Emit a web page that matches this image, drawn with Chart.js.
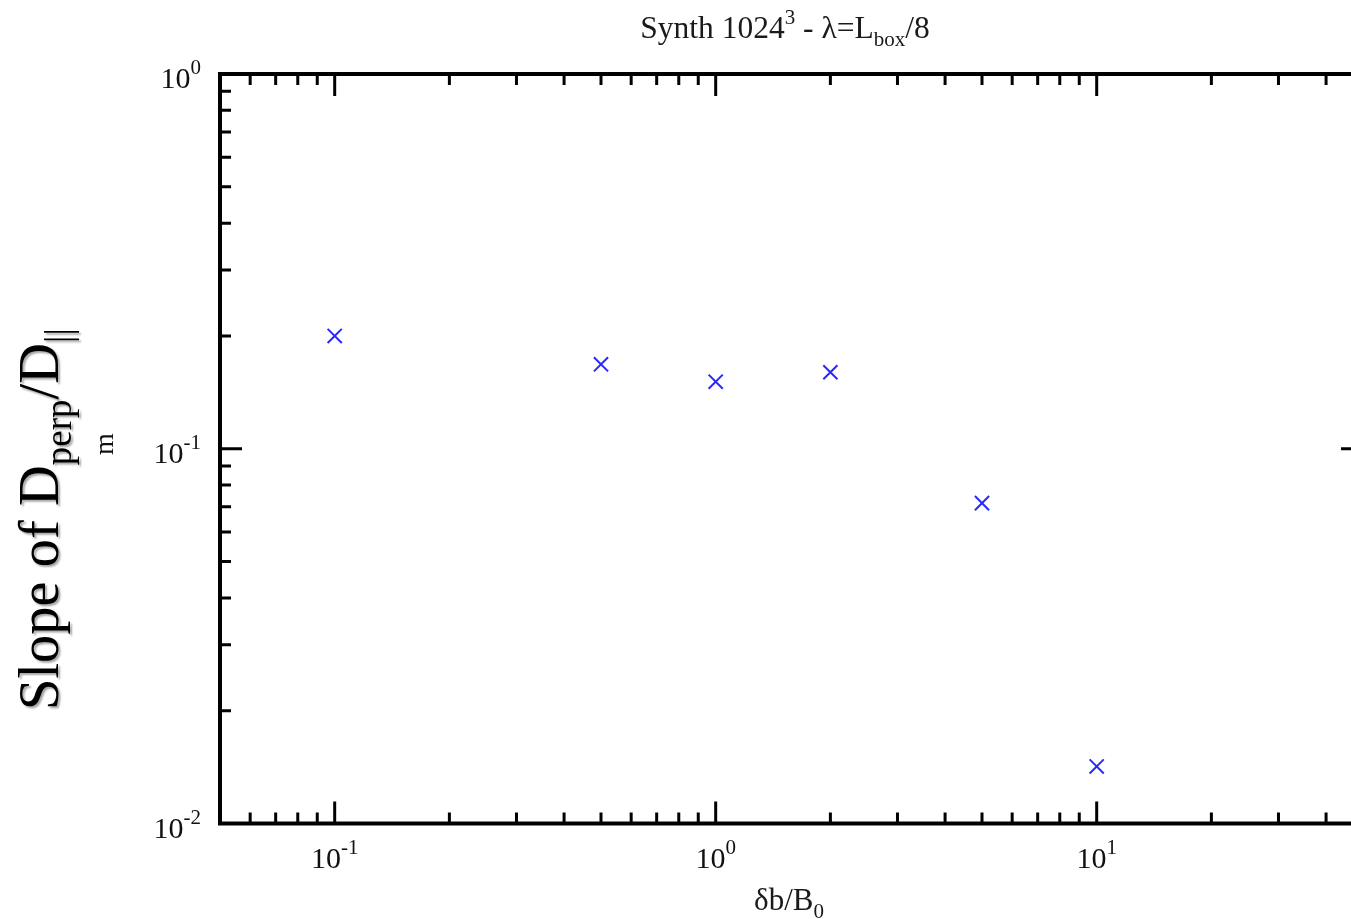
<!DOCTYPE html>
<html>
<head>
<meta charset="utf-8">
<script src="https://cdn.jsdelivr.net/npm/chart.js@4"></script>
<style>
  html, body { margin: 0; padding: 0; background: #fff; overflow: hidden; }
  #wrap { width: 1351px; height: 919px; overflow: hidden; position: relative; }
  canvas { display: block; }
</style>
</head>
<body>
<div id="wrap"><canvas id="c" width="1380" height="919"></canvas></div>
<script>
// ---- data ----
const xValues = [0.1, 0.5, 1, 2, 5, 10];
const yValues = [0.200, 0.168, 0.151, 0.160, 0.0716, 0.0142];
const xMajorTicks = [0.1, 1, 10];
const xTickExponents = ['-1', '0', '1'];
const yMajorTicks = [0.01, 0.1, 1];
const yTickExponents = ['-2', '-1', '0'];
const xRange = [0.05, 50];
const yRange = [0.01, 1];

const FONT = '"Liberation Serif", "DejaVu Serif", serif';

function drawRich(ctx, x, y, segs, align) {
  let total = 0;
  const widths = segs.map(s => { ctx.font = s.size + 'px ' + FONT; const w = ctx.measureText(s.t).width; total += w; return w; });
  let cx = x;
  if (align === 'center') cx = x - total / 2;
  else if (align === 'right') cx = x - total;
  ctx.textAlign = 'left';
  ctx.textBaseline = 'alphabetic';
  segs.forEach((s, i) => {
    ctx.font = s.size + 'px ' + FONT;
    ctx.fillText(s.t, cx, y + (s.dy || 0));
    cx += widths[i];
  });
}

const framePlugin = {
  id: 'frame',
  afterDraw(chart) {
    const ctx = chart.ctx;
    const a = chart.chartArea;
    const xs = chart.scales.x, ys = chart.scales.y;
    ctx.save();
    ctx.strokeStyle = '#000';
    ctx.lineCap = 'butt';
    // ticks
    const majLen = 22, minLen = 11;
    ctx.lineWidth = 3;
    for (let e = -3; e <= 2; e++) {
      for (let m = 1; m <= 9; m++) {
        const v = m * Math.pow(10, e);
        const len = m === 1 ? majLen : minLen;
        if (v > xRange[0] * 1.0001 && v < xRange[1] * 0.9999) {
          const px = xs.getPixelForValue(v);
          ctx.beginPath();
          ctx.moveTo(px, a.bottom); ctx.lineTo(px, a.bottom - len);
          ctx.moveTo(px, a.top); ctx.lineTo(px, a.top + len);
          ctx.stroke();
        }
        if (v > yRange[0] * 1.0001 && v < yRange[1] * 0.9999) {
          const py = ys.getPixelForValue(v);
          ctx.beginPath();
          ctx.moveTo(a.left, py); ctx.lineTo(a.left + len, py);
          ctx.moveTo(a.right, py); ctx.lineTo(a.right - len, py);
          ctx.stroke();
        }
      }
    }
    // frame
    ctx.lineWidth = 4;
    ctx.strokeRect(a.left, a.top, a.right - a.left, a.bottom - a.top);

    // tick labels
    ctx.fillStyle = '#111';
    xMajorTicks.forEach((v, i) => {
      const px = xs.getPixelForValue(v);
      drawRich(ctx, px, a.bottom + 44, [
        { t: '10', size: 30 },
        { t: xTickExponents[i], size: 21, dy: -14 }
      ], 'center');
    });
    yMajorTicks.forEach((v, i) => {
      const py = ys.getPixelForValue(v);
      drawRich(ctx, a.left - 19, py + 14, [
        { t: '10', size: 30 },
        { t: yTickExponents[i], size: 21, dy: -14 }
      ], 'right');
    });

    // title
    ctx.fillStyle = '#1a1a1a';
    drawRich(ctx, 785, 38, [
      { t: 'Synth 1024', size: 31.5 },
      { t: '3', size: 21, dy: -14 },
      { t: ' - \u03bb=L', size: 31.5 },
      { t: 'box', size: 21, dy: 8 },
      { t: '/8', size: 31.5 }
    ], 'center');

    // x axis title
    drawRich(ctx, 789, 910, [
      { t: '\u03b4b/B', size: 31 },
      { t: '0', size: 21, dy: 8 }
    ], 'center');

    // y axis title (rotated, with shadow)
    ctx.save();
    ctx.translate(58, 710);
    ctx.rotate(-Math.PI / 2);
    ctx.shadowColor = 'rgba(0,0,0,0.35)';
    ctx.shadowOffsetX = 2;
    ctx.shadowOffsetY = 2;
    ctx.shadowBlur = 2;
    ctx.fillStyle = '#000';
    drawRich(ctx, 0, 0, [
      { t: 'Slope of D', size: 56.5 },
      { t: 'perp', size: 37, dy: 13 },
      { t: '/D', size: 56.5 },
      { t: '||', size: 37, dy: 13 }
    ], 'left');
    ctx.restore();

    // secondary label "m"
    ctx.save();
    ctx.translate(113, 444);
    ctx.rotate(-Math.PI / 2);
    ctx.fillStyle = '#111';
    drawRich(ctx, 0, 0, [{ t: 'm', size: 28 }], 'center');
    ctx.restore();

    ctx.restore();
  }
};

new Chart(document.getElementById('c'), {
  type: 'scatter',
  data: {
    datasets: [{
      data: xValues.map((x, i) => ({ x: x, y: yValues[i] })),
      pointStyle: 'crossRot',
      pointRadius: 10,
      pointHoverRadius: 10,
      borderColor: 'rgb(40,40,255)',
      backgroundColor: 'rgb(40,40,255)',
      borderWidth: 2,
      showLine: false
    }]
  },
  options: {
    responsive: false,
    animation: false,
    devicePixelRatio: 1,
    layout: { padding: { left: 220, top: 74, right: 17, bottom: 95.5 } },
    plugins: { legend: { display: false }, tooltip: { enabled: false }, title: { display: false } },
    events: [],
    scales: {
      x: { type: 'logarithmic', min: xRange[0], max: xRange[1], display: false },
      y: { type: 'logarithmic', min: yRange[0], max: yRange[1], display: false }
    }
  },
  plugins: [framePlugin]
});
</script>
</body>
</html>
